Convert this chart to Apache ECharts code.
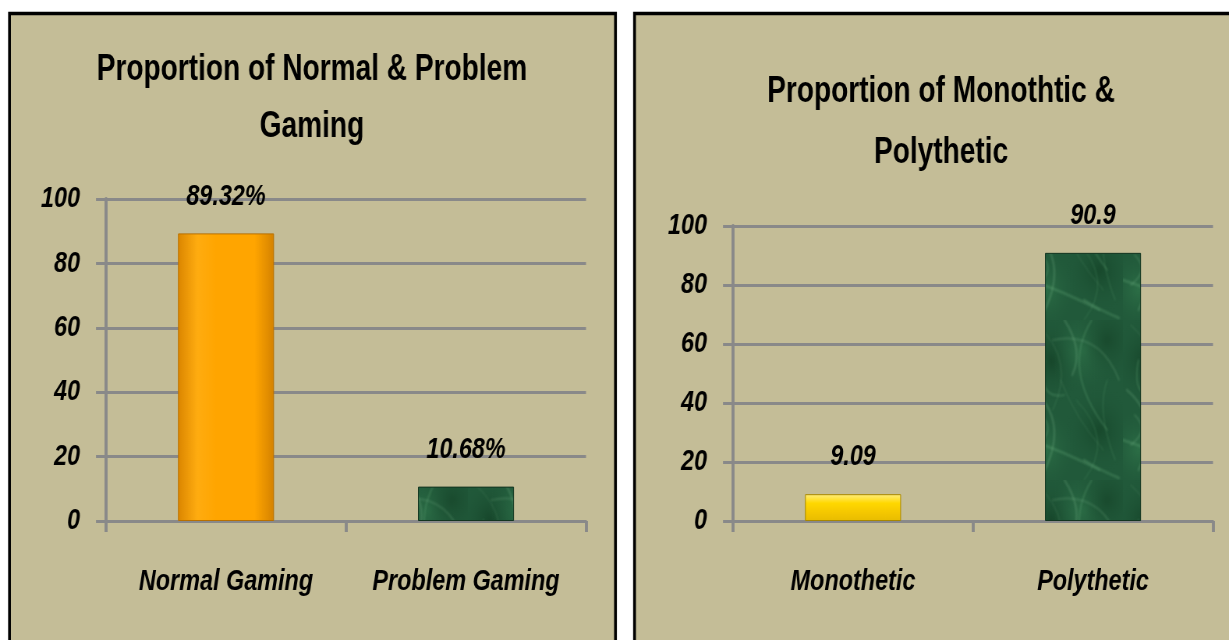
<!DOCTYPE html>
<html>
<head>
<meta charset="utf-8">
<script src="https://cdn.jsdelivr.net/npm/echarts@6/dist/echarts.min.js"></script>
<style>
  html, body { margin: 0; padding: 0; background: #ffffff; overflow: hidden; }
  #wrap { width: 1229px; height: 640px; overflow: hidden; }
  #chart { width: 1576px; height: 640px; transform: scaleX(0.77982); transform-origin: 0 0; }
</style>
</head>
<body>
<div id="wrap"><div id="chart"></div></div>
<script>
// ---- data ----
const leftTitle = 'Proportion of Normal & Problem\nGaming';
const leftCategories = ['Normal Gaming', 'Problem Gaming'];
const leftValues = [89.32, 10.68];
const rightTitle = 'Proportion of Monothtic &\nPolythetic';
const rightCategories = ['Monothetic', 'Polythetic'];
const rightValues = [9.09, 90.9];
const yMin = 0, yMax = 100, yInterval = 20;

// ---- layout / styles ----
const SX = 1229 / 1576;           // horizontal squeeze of the drawing (narrow type like the original)
const px = v => v / SX;           // page x -> drawing x
const FONT = "'Liberation Sans', Arial, sans-serif";
const TAN = '#C4BD97';
const GRID = '#898989';

function grad(x2, y2, stops) {
  return new echarts.graphic.LinearGradient(0, 0, x2, y2,
    stops.map((c, i) => ({ offset: i / (stops.length - 1), color: c })));
}
// marble-like texture for the green bars (fixed strokes, purely decorative)
const streaks = [
  [10, 5, 60, 40, 30, 90], [80, 0, 40, 50, 100, 110], [5, 70, 50, 100, 20, 150],
  [60, 80, 110, 120, 70, 160], [30, 20, 90, 10, 115, 60], [0, 120, 40, 130, 90, 150],
  [95, 130, 60, 100, 40, 60], [20, 40, 10, 80, 45, 75], [45, 0, 70, 30, 55, 55],
  [100, 60, 85, 90, 110, 140], [15, 95, 35, 110, 10, 125], [70, 140, 90, 150, 115, 158]
];
function marble() {
  const c = document.createElement('canvas');
  c.width = 120; c.height = 160;
  const g = c.getContext('2d');
  g.fillStyle = '#21593A'; g.fillRect(0, 0, 120, 160);
  const blots = [[30, 40, '#17472B'], [90, 110, '#184A2D'], [70, 30, '#2D7048'], [20, 130, '#2B6C45'], [100, 20, '#1A4C2F']];
  blots.forEach(([x, y, col]) => {
    const r = g.createRadialGradient(x, y, 2, x, y, 45);
    r.addColorStop(0, col); r.addColorStop(1, 'rgba(33,89,58,0)');
    g.fillStyle = r; g.fillRect(0, 0, 120, 160);
  });
  g.lineCap = 'round';
  g.filter = 'blur(1.2px)';
  streaks.forEach(([x1, y1, cx, cy, x2, y2], i) => {
    g.strokeStyle = i % 2 ? 'rgba(110,180,130,0.30)' : 'rgba(140,200,155,0.22)';
    g.lineWidth = 1 + (i % 3) * 0.7;
    g.beginPath(); g.moveTo(x1, y1); g.quadraticCurveTo(cx, cy, x2, y2); g.stroke();
  });
  g.filter = 'none';
  return c;
}
const orange = { color: grad(1, 0, ['#DB8600', '#FFAC10', '#FFA500', '#FFA500', '#FFA500', '#D48200']), borderColor: '#B87000', borderWidth: 1 };
const yellow = { color: grad(0, 1, ['#FFEE80', '#FFD800', '#F5C800', '#E8BC00']), borderColor: '#A88800', borderWidth: 1 };
const green = { color: { image: marble(), repeat: 'repeat' }, borderColor: '#123520', borderWidth: 1 };
const leftStyles = [orange, green];
const rightStyles = [yellow, green];

const hLine = { color: GRID, width: 3 };
const vLine = { color: GRID, width: 3 / SX };
const labelFont = { fontFamily: FONT, fontSize: 30, fontWeight: 'bold', fontStyle: 'italic', color: '#000' };

function yAxis(gridIndex) {
  return {
    type: 'value', gridIndex, min: yMin, max: yMax, interval: yInterval,
    axisLine: { show: true, lineStyle: vLine },
    axisTick: { show: true, length: px(10), lineStyle: hLine },
    splitLine: { show: true, lineStyle: hLine },
    axisLabel: Object.assign({ margin: px(26) }, labelFont)
  };
}
function xAxis(gridIndex, cats) {
  return {
    type: 'category', gridIndex, data: cats,
    axisLine: { show: true, lineStyle: hLine },
    axisTick: { show: true, length: 11, alignWithLabel: false, lineStyle: vLine },
    axisLabel: Object.assign({ margin: 46, interval: 0, hideOverlap: false }, labelFont)
  };
}
function barSeries(idx, values, styles, fmt) {
  return {
    type: 'bar', xAxisIndex: idx, yAxisIndex: idx, barWidth: px(96),
    data: values.map((v, i) => ({ value: v, itemStyle: styles[i] })),
    label: Object.assign({ show: true, position: 'top', distance: 22, formatter: fmt }, labelFont)
  };
}
const titleStyle = { fontFamily: FONT, fontSize: 36, fontWeight: 'bold', color: '#000' };

const chart = echarts.init(document.getElementById('chart'), null, { renderer: 'canvas' });
chart.setOption({
  animation: false,
  graphic: [
    { type: 'rect', z: -10, shape: { x: px(9.5), y: 13.5, width: px(606), height: 700 }, style: { fill: TAN, stroke: '#000', lineWidth: 3.6 } },
    { type: 'rect', z: -10, shape: { x: px(634.5), y: 13.5, width: px(700), height: 700 }, style: { fill: TAN, stroke: '#000', lineWidth: 3.6 } }
  ],
  title: [
    { text: leftTitle, left: px(312), top: 42, textAlign: 'center', padding: 0,
      textStyle: Object.assign({ lineHeight: 57 }, titleStyle) },
    { text: rightTitle, left: px(941), top: 62, textAlign: 'center', padding: 0,
      textStyle: Object.assign({ lineHeight: 61 }, titleStyle) }
  ],
  grid: [
    { left: px(106), right: px(1229 - 586), top: 199, bottom: 119 },
    { left: px(733), right: px(1229 - 1213), top: 226, bottom: 119 }
  ],
  xAxis: [xAxis(0, leftCategories), xAxis(1, rightCategories)],
  yAxis: [yAxis(0), yAxis(1)],
  series: [
    barSeries(0, leftValues, leftStyles, '{c}%'),
    barSeries(1, rightValues, rightStyles, '{c}')
  ]
});
</script>
</body>
</html>
